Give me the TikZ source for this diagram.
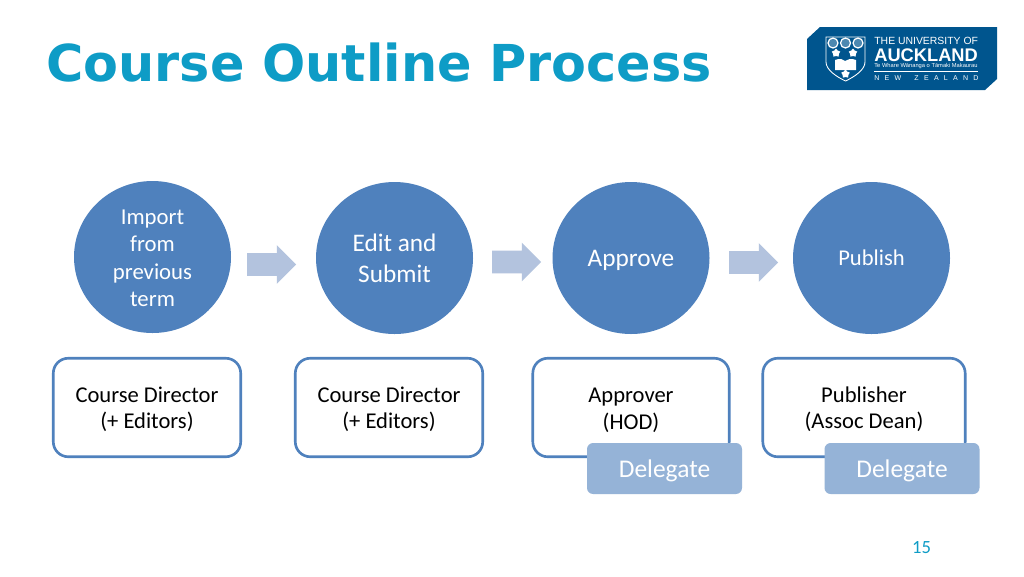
\documentclass[tikz,border=0pt]{standalone}
\usepackage{fontspec}
\setmainfont{Carlito}
\newfontfamily\titlefont{DejaVu Sans}
\newfontfamily\logofont{Liberation Sans}
\usetikzlibrary{shapes.geometric,shapes.arrows}
\definecolor{titleblue}{HTML}{0E9CC6}
\definecolor{stepblue}{HTML}{4F81BD}
\definecolor{arrowblue}{HTML}{B3C3DE}
\definecolor{delegateblue}{HTML}{95B3D7}
\definecolor{logoblue}{HTML}{00558E}
\newcommand{\lowtext}[2]{\raisebox{-#1}[\height][\depth]{#2}}
\tikzset{
	stepnode/.style={ellipse, fill=stepblue, text=white, minimum width=157*0.02cm, minimum height=152*0.02cm, inner sep=0pt, align=center},
	rolebox/.style={draw=stepblue, line width=1.5pt, fill=white, rounded corners=8.5pt, minimum height=98.5*0.02cm, inner sep=0pt, align=center, font=\fontsize{12.85}{15.3}\selectfont},
	delegatebox/.style={fill=delegateblue, text=white, rounded corners=3.5pt, minimum width=155*0.02cm, minimum height=51*0.02cm, inner sep=0pt, font=\fontsize{14.5}{16}\selectfont},
	blockarrow/.style={single arrow, fill=arrowblue, minimum height=49*0.02cm, single arrow head extend=8*0.02cm, single arrow head indent=0pt, inner xsep=0pt, inner ysep=11*0.02cm},
	logotext/.style={text=white, inner sep=0pt, anchor=west},
	logostar/.style={star, star points=5, fill=white, inner sep=0pt, minimum size=9*0.02cm},
}
\begin{document}
\begin{tikzpicture}[x=0.02cm, y=-0.02cm]
	%%%%% PAGE %%%%%
	\useasboundingbox (0, 0) rectangle (1024, 576);
	\fill[white] (0, 0) rectangle (1024, 576);

	\node[anchor=west, inner sep=0pt, text=titleblue, font=\titlefont\bfseries\fontsize{28.95}{34}\selectfont] (title) at (46, 63) {Course Outline Process};

	%%%%% LOGO %%%%%
	\fill[logoblue] (820, 27) -- (997, 27) -- (997, 79) -- (985, 90) -- (807, 90) -- (807, 39) -- cycle;
	\draw[white, line width=0.5pt] (826, 37) -- (865, 37) -- (865, 62) .. controls (865, 70) and (854, 77) .. (845.5, 81) .. controls (837, 77) and (826, 70) .. (826, 62) -- cycle;
	\foreach \sx in {833, 845.5, 858} {
		\draw[white, line width=0.7pt, fill=white!30!logoblue] (\sx, 43) circle (5);
	}
	\node[logostar] (stara) at (836, 53) {};
	\node[logostar] (starb) at (853, 53) {};
	\node[logostar] (starc) at (845.5, 74) {};
	\fill[white] (835, 60) .. controls (840, 58) and (843, 59) .. (845, 61) .. controls (848, 59) and (851, 58) .. (856, 60) -- (856, 70) -- (835, 70) -- cycle;

	\node[logotext, font=\logofont\fontsize{5.93}{6}\selectfont] (logoa) at (874, 41) {THE UNIVERSITY OF};
	\node[logotext, font=\logofont\bfseries\fontsize{10.4}{11}\selectfont] (logob) at (874, 55) {AUCKLAND};
	\node[logotext, font=\logofont\fontsize{3.27}{3}\selectfont] (logoc) at (874, 66) {Te Whare W\={a}nanga o T\={a}maki Makaurau};
	\draw[white, line width=0.3pt] (874, 71) -- (978, 71);
	\node[logotext, font=\logofont\fontsize{4}{5}\selectfont] (logod) at (874, 78) {N\kern3pt E\kern3pt W\kern7.5pt Z\kern3pt E\kern3pt A\kern3pt L\kern3pt A\kern3pt N\kern3pt D};

	%%%%% STEPS %%%%%
	\node[stepnode, font=\fontsize{12.95}{15.6}\selectfont] (import) at (152.5, 257) {\lowtext{0.7pt}{Import}\\\lowtext{0.7pt}{from}\\\lowtext{0.7pt}{previous}\\\lowtext{0.7pt}{term}};
	\node[stepnode, font=\fontsize{14.4}{17.6}\selectfont] (edit) at (394.5, 258) {Edit and\\Submit};
	\node[stepnode, font=\fontsize{14.4}{16}\selectfont] (approve) at (631, 258) {\lowtext{1.4pt}{Approve}};
	\node[stepnode, font=\fontsize{12.85}{14}\selectfont] (publish) at (871.5, 258) {Publish};

	\node[blockarrow] (arrowa) at (266, 264.5) {};
	\node[blockarrow] (arrowb) at (511, 262) {};
	\node[blockarrow] (arrowc) at (748, 262.5) {};

	%%%%% ROLES %%%%%
	\node[rolebox, minimum width=187.4*0.02cm] (directora) at (147, 407.5) {\lowtext{1pt}{Course Director}\\\lowtext{1pt}{(+ Editors)}};
	\node[rolebox, minimum width=187.4*0.02cm] (directorb) at (389, 407.5) {\lowtext{1pt}{Course Director}\\\lowtext{1pt}{(+ Editors)}};
	\node[rolebox, minimum width=196.4*0.02cm] (approver) at (631, 407.5) {\lowtext{1.4pt}{Approver}\\\lowtext{1.4pt}{(HOD)}};
	\node[rolebox, minimum width=202.4*0.02cm] (publisher) at (864, 407.5) {\lowtext{1pt}{Publisher}\\\lowtext{1pt}{(Assoc Dean)}};

	\node[delegatebox] (delegatea) at (664.5, 468.5) {\lowtext{1.4pt}{Delegate}};
	\node[delegatebox] (delegateb) at (902, 468.5) {\lowtext{1.4pt}{Delegate}};

	\node[text=titleblue, inner sep=0pt, font=\fontsize{10.6}{12}\selectfont] (pagenum) at (921.5, 548) {15};
\end{tikzpicture}
\end{document}
